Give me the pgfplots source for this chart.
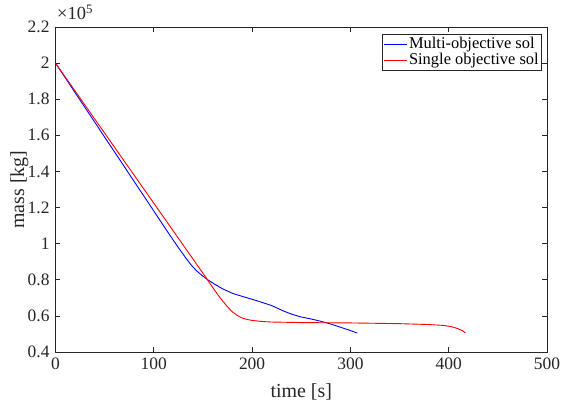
\documentclass[border=0pt]{standalone}
\usepackage{fontspec}
\setmainfont{Liberation Serif}
\usepackage{pgfplots}
\pgfplotsset{compat=1.18}
\definecolor{axgray}{RGB}{38,38,38}
\begin{document}
\fontsize{17.5}{21}\selectfont
\begin{tikzpicture}
\useasboundingbox (-55.5bp,-50bp) rectangle (506.5bp,352bp);
\begin{axis}[
  name=ax,
  width=491.5bp, height=325bp, scale only axis,
  xmin=0, xmax=500, ymin=0.4, ymax=2.2,
  xtick={0,100,200,300,400,500},
  ytick={0.4,0.6,0.8,1.0,1.2,1.4,1.6,1.8,2.0,2.2},
  tick align=inside, tick pos=both,
  major tick length=5bp,
  axis line style={draw=axgray, line width=0.6bp},
  every tick/.style={draw=axgray, line width=0.6bp},
  tick label style={text=axgray, font=\fontsize{17.5}{21}\selectfont},
  label style={text=axgray, font=\fontsize{20}{22}\selectfont},
  /pgf/number format/assume math mode=true,
  yticklabel style={/pgf/number format/fixed,/pgf/number format/precision=1},
  xlabel={time [s]}, ylabel={mass [kg]},
  xlabel style={at={(axis description cs:0.5,-0.124)}, anchor=center},
  ylabel style={at={(axis description cs:-0.0735,0.5)}, anchor=center},
  legend cell align=left,
  legend style={at={(rel axis cs:0.9898,0.978)}, anchor=north east,
    draw=axgray, line width=0.6bp, inner sep=1bp, row sep=-2bp,
    font=\fontsize{16.5}{17}\selectfont},
  legend image code/.code={\draw[#1] (0bp,0bp) -- (23bp,0bp);},
  every axis plot/.append style={line width=0.9bp, line join=round},
]
\addplot[blue] coordinates {
(0,2.0) (115,1.058) (125,0.978) (132,0.925) (138,0.882) (144,0.847) (150,0.82)
(156,0.796) (162,0.775) (170,0.750) (180,0.725) (190,0.708) (200,0.692)
(210,0.675) (220,0.657) (226,0.642) (232,0.627) (240,0.61) (249,0.595)
(260,0.583) (270,0.570) (280,0.555) (290,0.537) (300,0.519) (307,0.505)};
\addlegendentry{Multi-objective sol}
\addplot[red] coordinates {
(0,2.0) (145,0.875) (150,0.836) (155,0.797) (160,0.757) (165,0.718) (170,0.683)
(175,0.650) (180,0.622) (185,0.602) (190,0.588) (195,0.580) (200,0.575)
(210,0.569) (220,0.566) (250,0.563) (300,0.561) (350,0.557) (380,0.552)
(395,0.547) (403,0.540) (409,0.530) (414,0.518) (417,0.506)};
\addlegendentry{Single objective sol}
\end{axis}
\node[anchor=base west, inner sep=0, text=axgray, yshift=7bp, xshift=1.5bp, font=\fontsize{18.5}{21}\selectfont] at (ax.north west) {×10\textsuperscript{5}};
\end{tikzpicture}
\end{document}
